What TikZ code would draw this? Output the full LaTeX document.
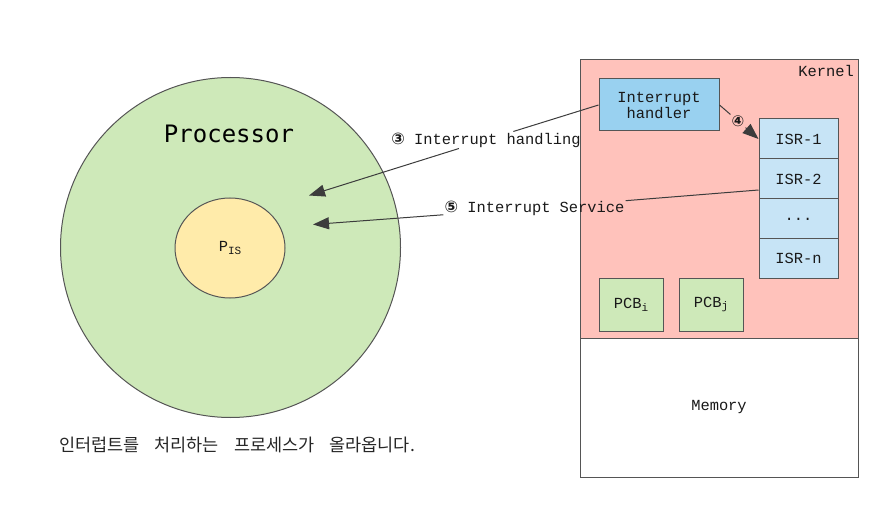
\documentclass[tikz,border=0pt]{standalone}
\usepackage{fontspec}
\setmainfont{Liberation Mono}
\newfontfamily\circfont{DejaVu Sans Bold}
\newfontfamily\krfont{Noto Sans CJK KR}
\newfontfamily\procfont{DejaVu Sans Mono}
\usetikzlibrary{arrows.meta,shapes.geometric}
\definecolor{procgreen}{RGB}{206,233,185}
\definecolor{pisyellow}{RGB}{255,235,170}
\definecolor{kernpink}{RGB}{255,194,187}
\definecolor{handblue}{RGB}{153,209,240}
\definecolor{isrblue}{RGB}{199,228,246}
\definecolor{edgegray}{RGB}{85,85,85}
\definecolor{arrowgray}{RGB}{60,60,60}
\tikzset{
  txt/.style={font=\fontsize{15.4}{18}\selectfont, text=black!90},
  box/.style={draw=edgegray, line width=1pt, rectangle, inner sep=0pt, txt},
  isrbox/.style={box, fill=isrblue, minimum width=79pt, minimum height=40pt},
  pcbbox/.style={box, fill=procgreen, minimum width=64pt, minimum height=53pt},
  lbl/.style={txt, inner sep=1pt},
  conn/.style={draw=arrowgray, line width=1pt},
  arr/.style={conn, -{Triangle[length=16pt,width=12pt]}, arrowgray}
}
\begin{document}
\begin{tikzpicture}[x=1pt,y=-1pt]
\useasboundingbox (0,0) rectangle (871,508);
% processor
\node[circle, draw=edgegray, line width=1pt, fill=procgreen, minimum size=340pt, inner sep=0pt] (proc) at (230.5,247.5) {};
\node[font=\procfont\fontsize{24}{28}\selectfont] (proclbl) at (229,134) {Processor};
\node[ellipse, draw=edgegray, line width=1pt, fill=pisyellow, minimum width=110pt, minimum height=100pt, inner sep=0pt, txt] (pis) at (230,248) {P\raisebox{-0.35ex}{\fontsize{11}{12}\selectfont IS}};
% kernel and memory
\node[box, fill=kernpink, minimum width=278pt, minimum height=278pt] (kernel) at (719,199) {};
\node[box, fill=white, minimum width=278pt, minimum height=139pt] (memory) at (719,407.5) {Memory};
\node[txt, anchor=east, inner sep=0pt] (kernlbl) at (854,71) {Kernel};
\node[box, fill=handblue, minimum width=120pt, minimum height=52pt, align=center, font=\fontsize{15.4}{16}\selectfont] (handler) at (659,105) {Interrupt\\handler};
\node[isrbox] (isr1) at (798.5,139) {ISR-1};
\node[isrbox] (isr2) at (798.5,179) {ISR-2};
\node[isrbox] (isrd) at (798.5,219) {...};
\node[isrbox] (isrn) at (798.5,258.5) {ISR-n};
\node[pcbbox] (pcbi) at (631,304.5) {PCB\raisebox{-0.35ex}{\fontsize{11}{12}\selectfont i}};
\node[pcbbox] (pcbj) at (711,304.5) {PCB\raisebox{-0.35ex}{\fontsize{11}{12}\selectfont j}};
% labels
\node[lbl] (l3) at (486,140) {{\circfont\fontsize{16}{16}\selectfont ③} Interrupt handling};
\node[lbl] (l5) at (534.5,208) {{\circfont\fontsize{16}{16}\selectfont ⑤} Interrupt Service};
\node[inner sep=1pt, font=\circfont\fontsize{15}{15}\selectfont, text=black!90] (l4) at (738,121) {④};
\coordinate (t3) at (309,195.5);
\coordinate (t5) at (313,224.5);
\coordinate (s5) at ([yshift=-11pt]isr2.west);
% connectors
\draw[conn] (handler.west) -- (l3);
\draw[arr] (l3) -- (t3);
\draw[conn] (s5) -- (l5);
\draw[arr] (l5) -- (t5);
\draw[conn] (handler.east) -- (l4);
\draw[arr] (l4) -- (isr1.west);
% caption
\node[anchor=west, inner sep=0pt, font=\krfont\fontsize{17.5}{20}\selectfont, text=black!85] (cap) at (59,445) {\spaceskip=15pt plus 0pt 인터럽트를 처리하는 프로세스가 올라옵니다.};
\end{tikzpicture}
\end{document}
